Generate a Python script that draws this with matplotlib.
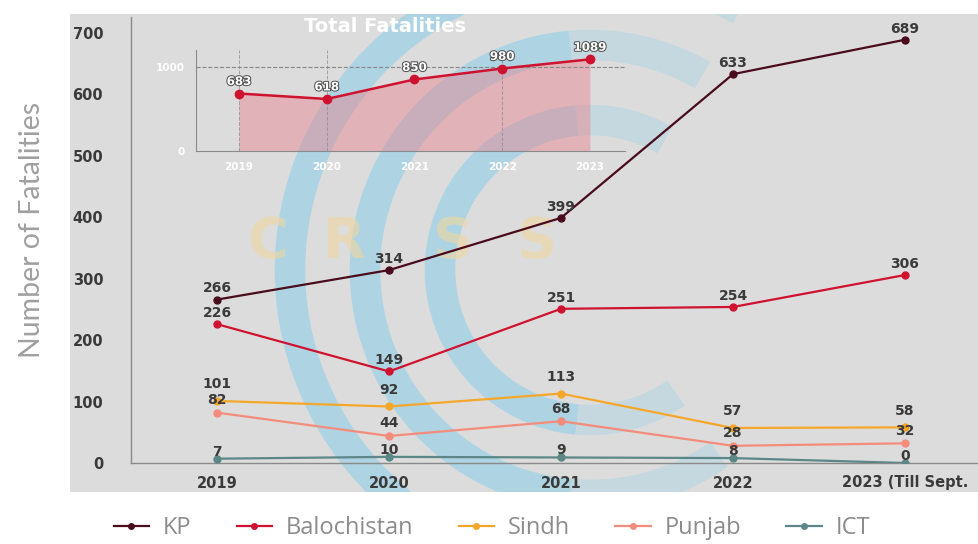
import matplotlib
matplotlib.use("Agg")
import matplotlib.pyplot as plt
import matplotlib.patheffects as pe
from matplotlib.patches import Rectangle, Arc

years = ["2019", "2020", "2021", "2022", "2023 (Till Sept."]
inset_years = ["2019", "2020", "2021", "2022", "2023"]
kp = [266, 314, 399, 633, 689]
balochistan = [226, 149, 251, 254, 306]
sindh = [101, 92, 113, 57, 58]
punjab = [82, 44, 68, 28, 32]
ict = [7, 10, 9, 8, 0]
total = [683, 618, 850, 980, 1089]

series = [
    ("KP", kp, "#4a0b1c", 3),
    ("Balochistan", balochistan, "#cf1230", 3),
    ("Sindh", sindh, "#f4a72a", 7),
    ("Punjab", punjab, "#f48c7c", 4),
    ("ICT", ict, "#5b8787", 0),
]

W, H = 979, 544
fig = plt.figure(figsize=(W / 100, H / 100), dpi=100)
fig.patch.set_facecolor("white")

def fx(px):
    return px / W

def fy(py):
    return 1 - py / H

# gray panel
panel = Rectangle((fx(70), fy(492)), fx(979) - fx(70), fy(14) - fy(492),
                  transform=fig.transFigure, facecolor="#dcdcdc",
                  edgecolor="none", zorder=0)
fig.patches.append(panel)

# watermark arcs
bg = fig.add_axes([0, 0, 1, 1], zorder=0.5)
bg.set_xlim(0, W)
bg.set_ylim(H, 0)
bg.axis("off")
bg.patch.set_alpha(0)
clip = Rectangle((70, 14), 909, 478, transform=bg.transData)
cx, cy = 590, 270
for r in [300, 225, 150]:
    for t1, t2, al in [(95, 265, 0.75), (265, 300, 0.35), (55, 95, 0.35)]:
        a = Arc((cx, cy), 2 * r, 2 * r, theta1=t1, theta2=t2,
                color="#9fd2e6", lw=22, alpha=al)
        bg.add_patch(a)
        a.set_clip_path(clip)
for letter, px in [("C", 268), ("R", 344), ("S", 453), ("S", 537)]:
    bg.text(px, 242, letter, ha="center", va="center", fontsize=40,
            fontweight="bold", color="#f0d7a0", alpha=0.6)

# main axes
ax = fig.add_axes([fx(131), fy(463), fx(979) - fx(131), fy(17) - fy(463)], zorder=1)
ax.patch.set_alpha(0)
x = list(range(len(years)))
for name, vals, col, off in series:
    ax.plot(x, vals, color=col, lw=1.6, marker="o", ms=5, label=name, zorder=3)
    for xi, v in zip(x, vals):
        ax.annotate(str(v), (xi, v), xytext=(0, off), textcoords="offset points",
                    ha="center", va="bottom", fontsize=10, fontweight="bold",
                    color="#3a3a3a", zorder=4)
ax.set_xlim(-0.5, 4.43)
ax.set_ylim(0, 726)
ax.set_yticks(range(0, 701, 100))
ax.set_xticks(x)
ax.set_xticklabels(years)
for sp in ["top", "right"]:
    ax.spines[sp].set_visible(False)
for sp in ["left", "bottom"]:
    ax.spines[sp].set_color("#8a8a8a")
    ax.spines[sp].set_linewidth(1)
ax.tick_params(length=0, labelsize=10.5, colors="#3a3a3a")
ax.tick_params(axis="y", pad=20)
ax.tick_params(axis="x", pad=9)
for lab in ax.get_xticklabels() + ax.get_yticklabels():
    lab.set_fontweight("bold")
fig.text(fx(32), fy(230), "Number of Fatalities", rotation=90, ha="center",
         va="center", fontsize=20.5, color="#a0a0a0", fontfamily="Lato")

leg = fig.legend(loc="center", bbox_to_anchor=(fx(492), fy(528)), ncol=5,
                 frameon=False, handlelength=1.5, columnspacing=1.9,
                 handletextpad=0.6, prop={"family": "Open Sans", "size": 17})
for t in leg.get_texts():
    t.set_color("#8c8c8c")
for h in leg.legend_handles:
    h.set_markersize(4)

# inset
ia = fig.add_axes([fx(196), fy(151), fx(625) - fx(196), fy(50) - fy(151)], zorder=2)
ia.patch.set_alpha(0)
xi = list(range(len(inset_years)))
ia.fill_between(xi, total, 0, color="#e8808c", alpha=0.45, lw=0)
ia.plot(xi, total, color="#cf1230", lw=1.8, marker="o", ms=6)
for a, v in zip(xi, total):
    ia.annotate(str(v), (a, v), xytext=(0, 4), textcoords="offset points",
                ha="center", va="bottom", fontsize=8.5, fontweight="bold",
                color="white", zorder=5,
                path_effects=[pe.withStroke(linewidth=1.5, foreground="#555555")])
ia.set_xlim(-0.49, 4.4)
ia.set_ylim(0, 1200)
ia.set_yticks([0, 1000])
ia.set_xticks(xi)
ia.set_xticklabels(inset_years)
ia.axhline(1000, color="#888888", lw=0.8, ls="--", zorder=1)
for a in [0, 1, 3]:
    ia.axvline(a, color="#888888", lw=0.7, ls="--", alpha=0.7, zorder=1)
for sp in ["top", "right"]:
    ia.spines[sp].set_visible(False)
for sp in ["left", "bottom"]:
    ia.spines[sp].set_color("#8a8a8a")
ia.tick_params(length=0, labelsize=7.5, colors="white", pad=8)
for lab in ia.get_xticklabels() + ia.get_yticklabels():
    lab.set_fontweight("bold")
fig.text(fx(385), fy(27), "Total Fatalities", ha="center", va="center",
         fontsize=14, fontweight="bold", color="white", zorder=5)

fig.savefig("out.png", dpi=100)
